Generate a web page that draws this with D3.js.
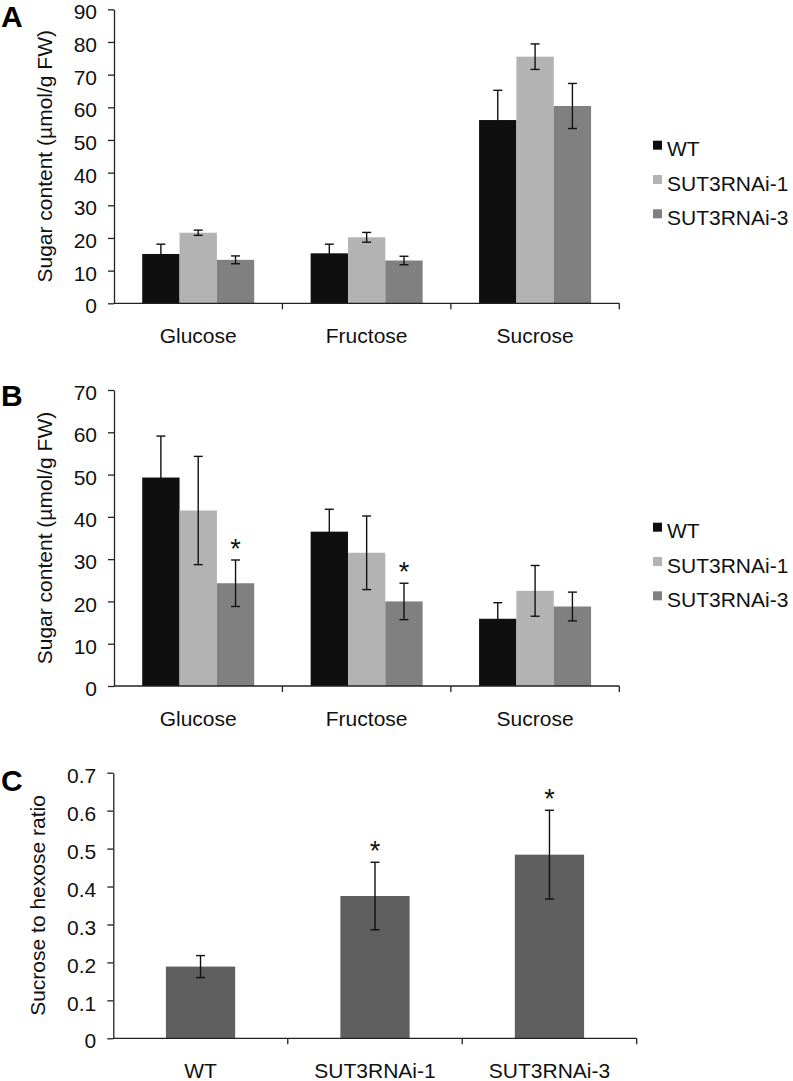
<!DOCTYPE html>
<html>
<head>
<meta charset="utf-8">
<script src="https://cdn.jsdelivr.net/npm/d3@7"></script>
<style>
  html, body { margin: 0; padding: 0; background: #fff; }
  svg { display: block; font-family: "Liberation Sans", Arial, Helvetica, sans-serif; }
</style>
</head>
<body>
<svg id="chart" width="793" height="1081"></svg>
<script>
// ---------------- DATA ----------------
const sugars = ["Glucose", "Fructose", "Sucrose"];
const lines = ["WT", "SUT3RNAi-1", "SUT3RNAi-3"];

// Panel A
const aWT      = [15.1, 15.3, 56.1];
const aWTerr   = [3.0, 2.8, 9.1];
const aSUT1    = [21.6, 20.2, 75.5];
const aSUT1err = [0.8, 1.5, 3.9];
const aSUT3    = [13.3, 13.1, 60.4];
const aSUT3err = [1.2, 1.3, 6.9];
const aTicks   = [0, 10, 20, 30, 40, 50, 60, 70, 80, 90];

// Panel B
const bWT      = [49.3, 36.5, 15.9];
const bWTerr   = [9.8, 5.3, 3.8];
const bSUT1    = [41.5, 31.5, 22.5];
const bSUT1err = [12.8, 8.7, 6.0];
const bSUT3    = [24.3, 20.0, 18.8];
const bSUT3err = [5.5, 4.3, 3.4];
const bSig3    = [true, true, false];
const bTicks   = [0, 10, 20, 30, 40, 50, 60, 70];

// Panel C
const cRatio    = [0.189, 0.375, 0.484];
const cRatioErr = [0.029, 0.089, 0.117];
const cSig      = [false, true, true];
const cTicks    = [0, 0.1, 0.2, 0.3, 0.4, 0.5, 0.6, 0.7];

const colors = ["#0f0f0f", "#b3b3b3", "#808080"];
const cColor = "#5f5f5f";

// ---------------- DRAW ----------------
const svg = d3.select("#chart");
const FONT = 21;
const axisColor = "#222";

function styleAxis(g) {
  g.selectAll("path.domain").attr("stroke", axisColor).attr("stroke-width", 1.3);
  g.selectAll(".tick line").attr("stroke", axisColor).attr("stroke-width", 1.3);
  g.selectAll(".tick text").attr("fill", "#111").attr("dy", "0.46em").style("font-size", FONT + "px")
    .style("font-family", '"Liberation Sans", Arial, Helvetica, sans-serif');
}

function drawFrame(cfg) {
  const { x0, y, ticks, fmt, yTitle, titleX, letter, letterY, cats } = cfg;
  const left = x0.range()[0], right = x0.range()[1];
  const y0 = y.range()[0];

  const gy = svg.append("g").attr("transform", `translate(${left},0)`)
    .call(d3.axisLeft(y).tickValues(ticks).tickFormat(fmt).tickSize(6).tickSizeOuter(0).tickPadding(11));
  styleAxis(gy);

  const gx = svg.append("g").attr("transform", `translate(0,${y0})`);
  gx.append("line").attr("x1", left).attr("x2", right).attr("y1", 0).attr("y2", 0)
    .attr("stroke", axisColor).attr("stroke-width", 1.3);
  const step = x0.step();
  const bounds = d3.range(1, cats.length + 1).map(i => left + i * step);
  gx.selectAll("line.bt").data(bounds).join("line").attr("class", "bt")
    .attr("x1", d => d).attr("x2", d => d).attr("y1", 0).attr("y2", 6)
    .attr("stroke", axisColor).attr("stroke-width", 1.3);
  gx.selectAll("text.cat").data(cats).join("text").attr("class", "cat")
    .attr("x", d => x0(d) + x0.bandwidth() / 2).attr("y", 40)
    .attr("text-anchor", "middle").style("font-size", FONT + "px").attr("fill", "#111")
    .text(d => d);

  const yc = (y.range()[0] + y.range()[1]) / 2;
  svg.append("text")
    .attr("transform", `translate(${titleX},${yc}) rotate(-90)`)
    .attr("text-anchor", "middle").attr("dominant-baseline", "central")
    .style("font-size", FONT + "px").attr("fill", "#111").text(yTitle);

  svg.append("text").attr("x", 1).attr("y", letterY)
    .style("font-size", "30px").style("font-weight", "bold").attr("fill", "#000").text(letter);
}

function errBar(g, cx, yTop, yBot, capW) {
  g.append("line").attr("x1", cx).attr("x2", cx).attr("y1", yTop).attr("y2", yBot)
    .attr("stroke", "#111").attr("stroke-width", 1.4);
  [yTop, yBot].forEach(yy => {
    g.append("line").attr("x1", cx - capW / 2).attr("x2", cx + capW / 2).attr("y1", yy).attr("y2", yy)
      .attr("stroke", "#111").attr("stroke-width", 1.4);
  });
}

function star(g, cx, yTop) {
  g.append("text").attr("x", cx).attr("y", yTop - 2).attr("text-anchor", "middle")
    .style("font-size", "27px").attr("fill", "#111").text("*");
}

function groupedPanel(opts) {
  const { vals, errs, sig, ymax, ticks, yTop, yZero, letterY, legendMid } = opts;
  const x0 = d3.scaleBand().domain(sugars).range([114, 619.3]).paddingInner(0.335).paddingOuter(0.1675);
  const x1 = d3.scaleBand().domain(lines).range([0, x0.bandwidth()]);
  const y = d3.scaleLinear().domain([0, ymax]).range([yZero, yTop]);

  const g = svg.append("g");
  sugars.forEach((s, i) => {
    lines.forEach((l, j) => {
      const v = vals[j][i], e = errs[j][i];
      const bx = x0(s) + x1(l);
      g.append("rect").attr("x", bx).attr("y", y(v)).attr("width", x1.bandwidth())
        .attr("height", y(0) - y(v)).attr("fill", colors[j]);
      const cx = bx + x1.bandwidth() / 2;
      errBar(g, cx, y(v + e), y(v - e), 9);
      if (sig && sig[j] && sig[j][i]) star(g, cx, y(v + e));
    });
  });

  drawFrame({ x0, y, ticks, fmt: d3.format("d"), yTitle: "Sugar content (µmol/g FW)",
    titleX: 44, letter: opts.letter, letterY, cats: sugars });

  const lg = svg.append("g");
  lines.forEach((l, j) => {
    const base = legendMid + (j - 1) * 34.3 + 9;
    lg.append("rect").attr("x", 653).attr("y", base - 15.5).attr("width", 9).attr("height", 9).attr("fill", colors[j]);
    lg.append("text").attr("x", 667).attr("y", base).style("font-size", FONT + "px").attr("fill", "#111").text(l);
  });
}

groupedPanel({
  letter: "A", letterY: 27,
  vals: [aWT, aSUT1, aSUT3], errs: [aWTerr, aSUT1err, aSUT3err], sig: null,
  ymax: 90, ticks: aTicks, yTop: 9.3, yZero: 303.3, legendMid: 181.5
});

groupedPanel({
  letter: "B", letterY: 406,
  vals: [bWT, bSUT1, bSUT3], errs: [bWTerr, bSUT1err, bSUT3err], sig: [null, null, bSig3],
  ymax: 70, ticks: bTicks, yTop: 390, yZero: 686, legendMid: 563.5
});

(function () {
  const x0 = d3.scaleBand().domain(lines).range([113.3, 636.7]).paddingInner(0.603).paddingOuter(0.3015);
  const y = d3.scaleLinear().domain([0, 0.7]).range([1038.3, 772.7]);
  const g = svg.append("g");
  lines.forEach((l, i) => {
    const v = cRatio[i], e = cRatioErr[i];
    g.append("rect").attr("x", x0(l)).attr("y", y(v)).attr("width", x0.bandwidth())
      .attr("height", y(0) - y(v)).attr("fill", cColor);
    const cx = x0(l) + x0.bandwidth() / 2;
    errBar(g, cx, y(v + e), y(v - e), 9);
    if (cSig[i]) star(g, cx, y(v + e));
  });
  drawFrame({ x0, y, ticks: cTicks, fmt: d => d === 0 ? "0" : d3.format(".1f")(d),
    yTitle: "Sucrose to hexose ratio", titleX: 37, letter: "C", letterY: 791, cats: lines });
})();
</script>
</body>
</html>
